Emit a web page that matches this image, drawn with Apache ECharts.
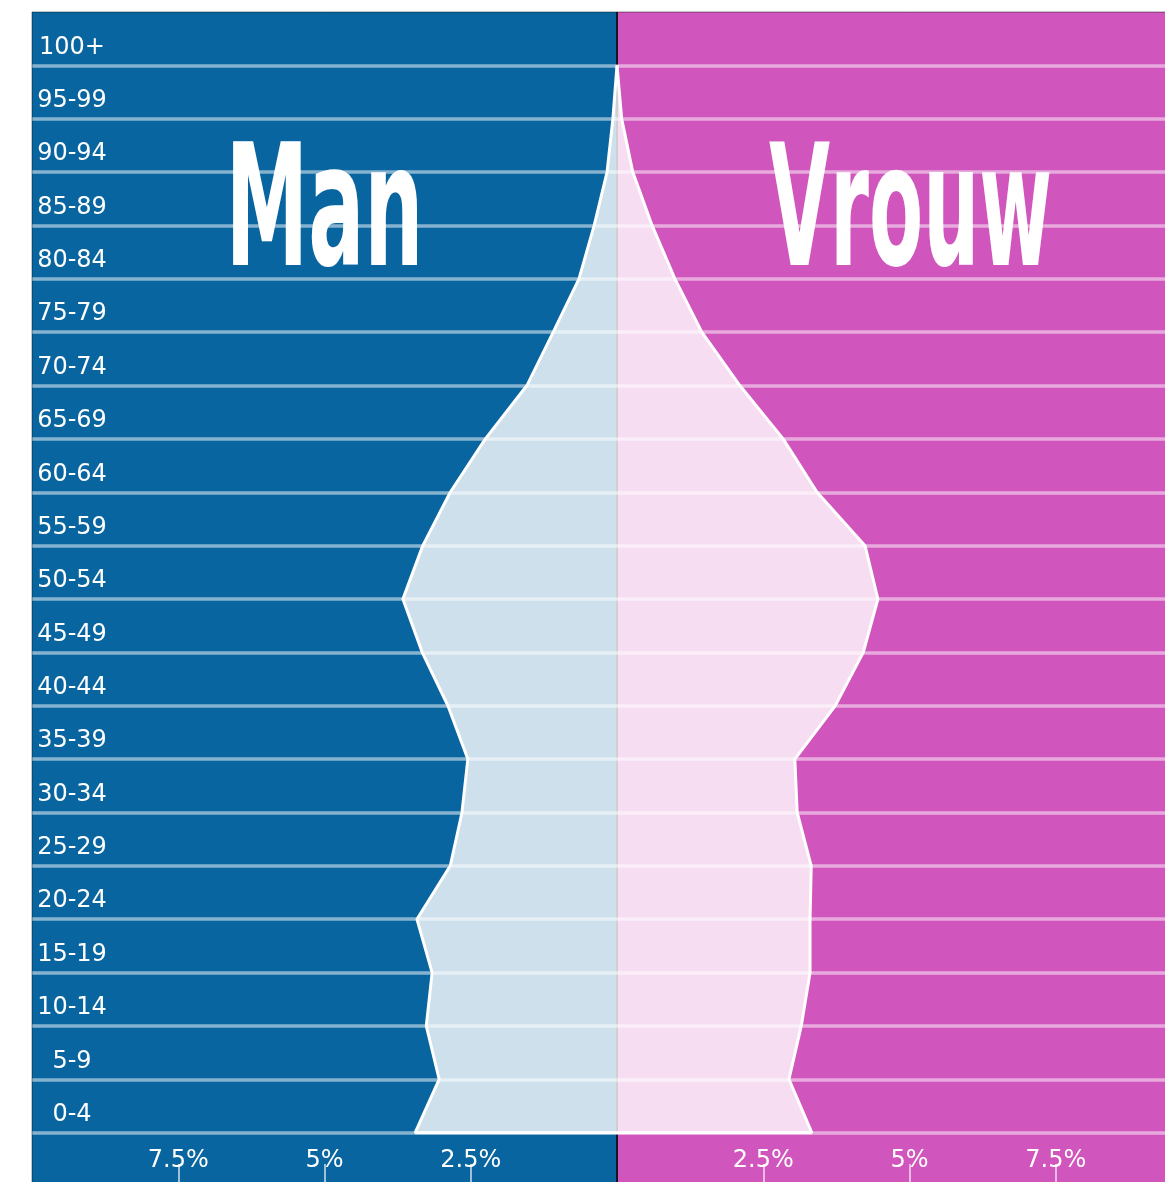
<!DOCTYPE html>
<html>
<head>
<meta charset="utf-8">
<script src="https://cdn.jsdelivr.net/npm/echarts@6/dist/echarts.min.js"></script>
<style>
  html, body { margin: 0; padding: 0; overflow: hidden; background: #fff; }
  #chart { width: 1210px; height: 1190px; }
</style>
</head>
<body>
<div id="chart"></div>
<script>
// leeftijdsgroepen van onder naar boven
var ageGroups = ['0-4', '5-9', '10-14', '15-19', '20-24', '25-29', '30-34', '35-39',
  '40-44', '45-49', '50-54', '55-59', '60-64', '65-69', '70-74', '75-79',
  '80-84', '85-89', '90-94', '95-99', '100+']

// aandeel van de bevolking in %
var manPct = [3.45, 3.04, 3.26, 3.16, 3.42, 2.85, 2.65, 2.55, 2.89, 3.33, 3.66,
  3.32, 2.85, 2.25, 1.54, 1.09, 0.65, 0.39, 0.17, 0.07, 0]
var vrouwPct = [3.33, 2.94, 3.15, 3.30, 3.30, 3.32, 3.08, 3.04, 3.73, 4.21, 4.46,
  4.24, 3.42, 2.84, 2.10, 1.45, 0.99, 0.60, 0.27, 0.08, 0]

var xTickValues = [-7.5, -5, -2.5, 2.5, 5, 7.5]

var blue = '#09659f'
var magenta = '#d055bc'
var labelFont = 'DejaVu Sans'
var titleFont = 'bold 170px "Liberation Sans Narrow", "DejaVu Sans Condensed", "DejaVu Sans"'

// lege rij boven en onder zodat de achtergrond doorloopt
var yCats = [''].concat(ageGroups).concat([' '])

var manData = [[0, ageGroups[0]]].concat(ageGroups.map(function (a, i) {
  return [-manPct[i], a]
}))
var vrouwData = [[0, ageGroups[0]]].concat(ageGroups.map(function (a, i) {
  return [vrouwPct[i], a]
}))

// grote titels: breedte en hoogte passend maken
function fitTitle(text, left, right, top, bottom) {
  var ctx = document.createElement('canvas').getContext('2d')
  ctx.font = titleFont
  ctx.textBaseline = 'middle'
  var m = ctx.measureText(text)
  var sx = (right - left) / (m.actualBoundingBoxLeft + m.actualBoundingBoxRight)
  var sy = (bottom - top) / (m.actualBoundingBoxAscent + m.actualBoundingBoxDescent)
  return {
    type: 'text',
    x: left + m.actualBoundingBoxLeft * sx,
    y: top + m.actualBoundingBoxAscent * sy,
    scaleX: sx,
    scaleY: sy,
    z: 2,
    silent: true,
    style: {
      text: text,
      fill: '#fff',
      font: titleFont,
      align: 'left',
      verticalAlign: 'middle'
    }
  }
}

var chart = echarts.init(document.getElementById('chart'))

chart.setOption({
  animation: false,
  grid: {
    left: 32,
    top: 12,
    width: 1170,
    height: 1174,
    outerBoundsMode: 'none',
    containLabel: false,
    show: true,
    z: 4,
    backgroundColor: 'transparent',
    borderColor: 'rgba(0,0,0,0.45)',
    borderWidth: 1
  },
  graphic: [
    fitTitle('Man', 233, 417, 141, 267),
    fitTitle('Vrouw', 769, 1050, 141, 267)
  ],
  xAxis: {
    type: 'value',
    min: -10,
    max: 10,
    interval: 2.5,
    z: 3,
    axisLine: { show: false },
    splitLine: { show: false },
    axisTick: {
      show: true,
      inside: true,
      length: 22,
      customValues: xTickValues,
      lineStyle: { color: 'rgba(255,255,255,0.6)', width: 2 }
    },
    axisLabel: {
      inside: true,
      margin: 25,
      verticalAlign: 'middle',
      customValues: xTickValues,
      color: '#fff',
      fontSize: 24,
      fontFamily: labelFont,
      formatter: function (v) { return Math.abs(v) + '%' }
    }
  },
  yAxis: {
    type: 'category',
    data: yCats,
    boundaryGap: false,
    z: 3,
    axisLine: { show: false },
    axisTick: { show: false },
    splitLine: {
      show: true,
      interval: 0,
      showMinLine: false,
      showMaxLine: false,
      lineStyle: { color: 'rgba(255,255,255,0.5)', width: 3.5 }
    },
    axisLabel: {
      inside: true,
      interval: 0,
      margin: 40,
      align: 'center',
      verticalAlign: 'bottom',
      lineHeight: 36,
      color: '#fff',
      fontSize: 24,
      fontFamily: labelFont,
      formatter: function (v) { return v.trim() }
    }
  },
  series: [
    {
      // achtergrond en middenlijn
      type: 'line',
      data: [],
      silent: true,
      z: 1,
      markArea: {
        silent: true,
        z: 1,
        data: [
          [{ xAxis: -10, itemStyle: { color: blue } }, { xAxis: 0 }],
          [{ xAxis: 0, itemStyle: { color: magenta } }, { xAxis: 10 }]
        ]
      },
      markLine: {
        silent: true,
        z: 2,
        symbol: 'none',
        label: { show: false },
        lineStyle: { color: '#15151f', width: 2, type: 'solid' },
        data: [{ xAxis: 0 }]
      }
    },
    {
      name: 'Man',
      type: 'line',
      data: manData,
      symbol: 'none',
      silent: true,
      z: 5,
      lineStyle: { color: '#fff', width: 3 },
      areaStyle: { color: 'rgba(255,255,255,0.8)', opacity: 1 }
    },
    {
      name: 'Vrouw',
      type: 'line',
      data: vrouwData,
      symbol: 'none',
      silent: true,
      z: 5,
      lineStyle: { color: '#fff', width: 3 },
      areaStyle: { color: 'rgba(255,255,255,0.8)', opacity: 1 }
    }
  ]
})
</script>
</body>
</html>
